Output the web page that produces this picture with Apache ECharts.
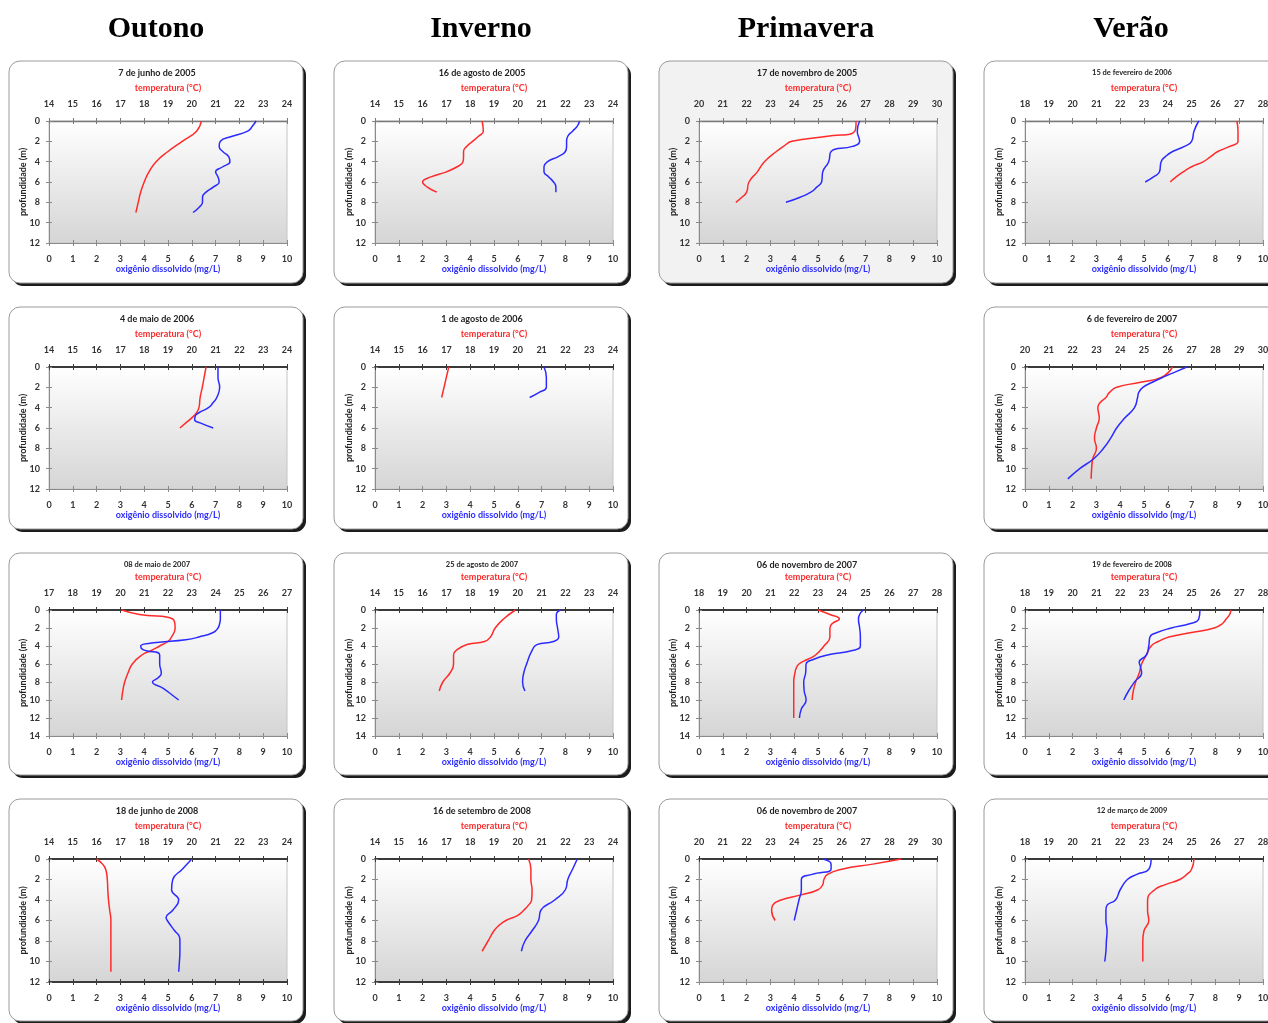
<!DOCTYPE html>
<html>
<head>
<meta charset="utf-8">
<script src="https://cdn.jsdelivr.net/npm/echarts@6/dist/echarts.min.js"></script>
<style>
html,body{margin:0;padding:0;background:#ffffff;}
#c{width:1268px;height:1023px;}
</style>
</head>
<body>
<div id="c"></div>
<script>
// ---------- text ----------
const seasons = ['Outono', 'Inverno', 'Primavera', 'Verão'];
const tempName = 'temperatura (°C)';
const o2Name = 'oxigênio dissolvido (mg/L)';
const depthName = 'profundidade (m)';

// ---------- profiles: [depth (m), value] ----------
const jun2005Temp = [[0,20.4],[1,20.2],[2,19.6],[3,19.0],[4,18.5],[5,18.2],[6,18.0],[7,17.85],[8,17.75],[9,17.65]];
const jun2005O2   = [[0,8.7],[0.5,8.55],[1,8.35],[1.5,7.7],[2,7.2],[2.5,7.15],[3,7.3],[3.5,7.55],[4,7.6],[4.5,7.3],[5,7.0],[5.5,7.1],[6,7.15],[6.5,6.9],[7,6.6],[7.5,6.45],[8,6.45],[8.5,6.3],[9,6.05]];

const ago2005Temp = [[0,18.5],[1,18.55],[1.5,18.35],[2,18.1],[2.5,17.85],[3,17.72],[3.5,17.72],[4,17.7],[4.5,17.45],[5,17.0],[5.5,16.35],[6,16.0],[6.5,16.2],[7,16.6]];
const ago2005O2   = [[0,8.6],[0.5,8.5],[1,8.3],[1.5,8.1],[2,8.05],[2.5,8.05],[3,8.0],[3.5,7.7],[4,7.25],[4.5,7.1],[5,7.1],[5.5,7.3],[6,7.5],[6.5,7.6],[7,7.6]];

const nov2005Temp = [[0,26.6],[1,26.55],[1.5,25.4],[2,23.9],[2.5,23.55],[3,23.25],[4,22.75],[5,22.45],[6,22.1],[7,22.0],[7.5,21.8],[8,21.55]];
const nov2005O2   = [[0,6.75],[1,6.65],[2,6.75],[2.5,6.45],[3,5.55],[4,5.45],[5,5.2],[6,5.15],[6.5,4.95],[7,4.7],[7.5,4.25],[8,3.65]];

const fev2006Temp = [[0,26.9],[1,26.95],[2,26.95],[2.5,26.6],[3,26.1],[3.5,25.8],[4,25.5],[4.5,25.0],[5,24.65],[5.5,24.35],[6,24.1]];
const fev2006O2   = [[0,7.3],[1,7.1],[2,7.0],[2.5,6.7],[3,6.2],[3.5,5.9],[4,5.72],[5,5.65],[5.5,5.4],[6,5.05]];

const mai2006Temp = [[0,20.6],[1,20.52],[2,20.44],[3,20.35],[4,20.3],[4.5,20.2],[5,20.0],[5.5,19.75],[6,19.5]];
const mai2006O2   = [[0,7.1],[1,7.1],[2,7.17],[3,7.05],[3.5,6.9],[4,6.7],[4.5,6.3],[4.8,6.15],[5.2,6.12],[5.5,6.35],[6,6.9]];

const ago2006Temp = [[0,17.1],[1,17.0],[2,16.9],[3,16.8]];
const ago2006O2   = [[0,7.1],[1,7.2],[2,7.2],[2.5,6.9],[3,6.5]];

const fev2007Temp = [[0,26.2],[1,25.75],[1.5,24.85],[2,23.85],[2.5,23.55],[3,23.4],[3.5,23.16],[4,23.06],[5,23.12],[6,23.0],[7,22.92],[8,23.0],[9,22.85],[10,22.8],[11,22.78]];
const fev2007O2   = [[0,6.8],[0.5,6.3],[1,5.8],[1.5,5.35],[2,4.95],[2.5,4.78],[3,4.73],[4,4.6],[5,4.2],[6,3.85],[7,3.6],[8,3.3],[9,2.9],[10,2.3],[11,1.8]];

const mai2007Temp = [[0,20.05],[0.5,20.8],[1,22.2],[2,22.3],[3,22.15],[3.5,22.0],[4,21.65],[4.5,21.3],[5,20.9],[6,20.5],[7,20.32],[8,20.18],[9,20.1],[10,20.05]];
const mai2007O2   = [[0,7.2],[1,7.2],[1.5,7.17],[2,7.1],[2.5,6.9],[3,6.3],[3.3,5.75],[3.65,4.4],[4,3.85],[4.4,3.95],[5,4.65],[6,4.65],[7,4.72],[7.5,4.6],[8,4.35],[8.7,4.8],[9.5,5.2],[10,5.45]];

const ago2007Temp = [[0,19.9],[1,19.4],[2,19.05],[3,18.85],[3.5,18.6],[3.8,17.9],[4.4,17.45],[5,17.3],[6,17.3],[7,17.15],[8,16.85],[9,16.7]];
const ago2007O2   = [[0,7.8],[0.5,7.62],[1,7.62],[2,7.67],[3,7.72],[3.5,7.5],[3.85,6.8],[4.6,6.58],[6,6.37],[7,6.25],[8,6.2],[9,6.3]];

const nov2007Temp = [[0,23.0],[0.5,23.5],[1,23.9],[1.5,23.6],[2,23.5],[3,23.5],[4,23.25],[5,22.9],[5.5,22.55],[6,22.2],[6.5,22.08],[7,22.03],[8,21.98],[9,21.98],[10,21.98],[11,21.98],[12,21.98]];
const nov2007O2   = [[0,6.9],[0.5,6.75],[1,6.7],[2,6.75],[3,6.78],[4,6.78],[4.5,6.45],[5,5.4],[5.5,4.8],[6,4.5],[7,4.48],[8,4.4],[9,4.42],[10,4.5],[11,4.3],[12,4.22]];

const fev2008Temp = [[0,26.65],[0.5,26.6],[1,26.45],[1.5,26.3],[2,25.95],[2.5,25.0],[3,24.05],[3.5,23.6],[4,23.3],[5,23.1],[6,22.9],[7,22.8],[8,22.65],[9,22.55],[10,22.5]];
const fev2008O2   = [[0,7.35],[1,7.3],[1.5,6.95],[2,6.15],[2.5,5.55],[3,5.25],[4,5.2],[5,5.1],[5.8,4.8],[6.3,4.85],[7,4.9],[8,4.6],[9,4.35],[10,4.15]];

const jun2008Temp = [[0,16.0],[0.5,16.25],[1,16.38],[2,16.45],[3,16.47],[4,16.5],[5,16.55],[6,16.6],[7,16.6],[8,16.6],[9,16.6],[10,16.6],[11,16.6]];
const jun2008O2   = [[0,6.0],[1,5.6],[2,5.2],[3,5.15],[4,5.45],[5,5.2],[5.7,4.92],[6,4.97],[7,5.28],[7.6,5.48],[8,5.5],[9,5.5],[10,5.48],[11,5.45]];

const set2008Temp = [[0,20.45],[1,20.55],[2,20.55],[3,20.6],[4,20.58],[4.5,20.45],[5,20.25],[5.5,20.0],[6,19.5],[6.5,19.2],[7,19.0],[8,18.75],[9,18.5]];
const set2008O2   = [[0,8.5],[1,8.3],[2,8.1],[3,8.0],[4,7.55],[5,6.97],[6,6.87],[7,6.6],[8,6.3],[9,6.15]];

const nov2007bTemp = [[0,28.5],[0.5,27.3],[1,26.0],[1.5,25.4],[2,25.25],[2.5,25.2],[3,25.0],[3.5,24.3],[4,23.45],[4.5,23.1],[5,23.05],[6,23.2]];
const nov2007bO2   = [[0,5.2],[0.5,5.55],[1,5.55],[1.5,4.75],[2,4.3],[3,4.3],[4,4.2],[5,4.1],[6,4.0]];

const mar2009Temp = [[0,25.1],[1,25.0],[1.5,24.8],[2,24.5],[2.5,23.9],[3,23.45],[4,23.15],[5,23.15],[6,23.2],[7,23.0],[8,22.95],[9,22.95],[10,22.95]];
const mar2009O2   = [[0,5.3],[1,5.2],[1.5,4.7],[2,4.3],[3,4.0],[4,3.8],[4.5,3.45],[5,3.4],[6,3.4],[7,3.45],[8,3.42],[9,3.4],[10,3.35]];

// ---------- axis ranges ----------
const o2Range = [0, 10];

// ---------- panels ----------
const panels = [
  {date:'7 de junho de 2005',      row:0, col:0, tRange:[14,24], dMax:12, temp:jun2005Temp,  o2:jun2005O2},
  {date:'16 de agosto de 2005',    row:0, col:1, tRange:[14,24], dMax:12, temp:ago2005Temp,  o2:ago2005O2},
  {date:'17 de novembro de 2005',  row:0, col:2, tRange:[20,30], dMax:12, temp:nov2005Temp,  o2:nov2005O2},
  {date:'15 de fevereiro de 2006', row:0, col:3, tRange:[18,28], dMax:12, temp:fev2006Temp,  o2:fev2006O2},
  {date:'4 de maio de 2006',       row:1, col:0, tRange:[14,24], dMax:12, temp:mai2006Temp,  o2:mai2006O2},
  {date:'1 de agosto de 2006',     row:1, col:1, tRange:[14,24], dMax:12, temp:ago2006Temp,  o2:ago2006O2},
  {date:'6 de fevereiro de 2007',  row:1, col:3, tRange:[20,30], dMax:12, temp:fev2007Temp,  o2:fev2007O2},
  {date:'08 de maio de 2007',      row:2, col:0, tRange:[17,27], dMax:14, temp:mai2007Temp,  o2:mai2007O2},
  {date:'25 de agosto de 2007',    row:2, col:1, tRange:[14,24], dMax:14, temp:ago2007Temp,  o2:ago2007O2},
  {date:'06 de novembro de 2007',  row:2, col:2, tRange:[18,28], dMax:14, temp:nov2007Temp,  o2:nov2007O2},
  {date:'19 de fevereiro de 2008', row:2, col:3, tRange:[18,28], dMax:14, temp:fev2008Temp,  o2:fev2008O2},
  {date:'18 de junho de 2008',     row:3, col:0, tRange:[14,24], dMax:12, temp:jun2008Temp,  o2:jun2008O2},
  {date:'16 de setembro de 2008',  row:3, col:1, tRange:[14,24], dMax:12, temp:set2008Temp,  o2:set2008O2},
  {date:'06 de novembro de 2007',  row:3, col:2, tRange:[20,30], dMax:12, temp:nov2007bTemp, o2:nov2007bO2},
  {date:'12 de março de 2009',     row:3, col:3, tRange:[18,28], dMax:12, temp:mar2009Temp,  o2:mar2009O2}
];

// ---------- layout / style ----------
const boxX = [9, 334, 659, 984];
const boxY = [61, 307, 553, 799];
const BOX_W = 294, BOX_H = 222;
const plotLeft = [49, 375, 699, 1025];
const plotTop = [121, 367, 610, 859];
const plotH = [122, 122, 126, 123];
const PLOT_W = 238;
const smallTitle = {'15 de fevereiro de 2006':7.5, '08 de maio de 2007':7.5, '25 de agosto de 2007':7.5,
                    '19 de fevereiro de 2008':7.5, '12 de março de 2009':7.5};
const FONT = 'Lato, "Open Sans", "Liberation Sans", sans-serif';
const RED = '#ff2a2a', BLUE = '#2b2bff';

const grids = [], xAxes = [], yAxes = [], series = [], graphics = [];

seasons.forEach((s, c) => {
  graphics.push({type:'text', z:50, silent:true,
    style:{text:s, x:boxX[c] + BOX_W/2, y:29, align:'center', verticalAlign:'middle',
      font:'bold 30px "Liberation Serif", "Times New Roman", serif', fill:'#000'}});
});

const plotBg = {type:'linear', x:0, y:0, x2:0, y2:1,
  colorStops:[{offset:0, color:'#ffffff'}, {offset:1, color:'#d5d5d5'}]};

panels.forEach((p, i) => {
  const bx = boxX[p.col], by = boxY[p.row];
  graphics.push({type:'rect', z:-20, silent:true,
    shape:{x:bx + 3, y:by + 3, width:BOX_W, height:BOX_H, r:11},
    style:{fill:'#1c1c1c'}});
  graphics.push({type:'rect', z:-19, silent:true,
    shape:{x:bx, y:by, width:BOX_W, height:BOX_H, r:11},
    style:{fill:(p.row === 0 && p.col === 2) ? '#f2f2f2' : '#ffffff', stroke:'#9a9a9a', lineWidth:1}});
  graphics.push({type:'text', z:50, silent:true,
    style:{text:p.date, x:bx + BOX_W/2 + 1, y:by + 12, align:'center', verticalAlign:'middle',
      font:'bold ' + (smallTitle[p.date] || 9) + 'px ' + FONT, fill:'#222'}});

  grids.push({left:plotLeft[p.col], top:plotTop[p.row], width:PLOT_W, height:plotH[p.row],
    show:true, backgroundColor:plotBg, borderColor:'#c4c4c4', borderWidth:1, z:1,
    containLabel:false, outerBoundsMode:'none'});

  const topLine = p.row === 0 ? {color:'#7a7a7a', width:1.3} : {color:'#3a3a3a', width:1.8};
  const sideLine = {color:'#8a8a8a', width:1};
  const bottomLine = (p.row === 3 && p.col < 2) ? {color:'#3a3a3a', width:1.8} : sideLine;
  const lbl = {show:true, color:'#333', fontWeight:'bold', fontSize:9, fontFamily:FONT};
  const xi = xAxes.length, yi = yAxes.length;

  xAxes.push({gridIndex:i, type:'value', position:'top', min:p.tRange[0], max:p.tRange[1], interval:1,
    name:tempName, nameLocation:'middle', nameGap:28, nameMoveOverlap:false,
    nameTextStyle:{color:RED, fontWeight:'bold', fontSize:9, fontFamily:FONT},
    axisLine:{show:true, onZero:false, lineStyle:topLine},
    axisTick:{show:true, inside:false, length:3, lineStyle:{color:topLine.color, width:1}},
    axisLabel:Object.assign({margin:12}, lbl), splitLine:{show:false}, z:5});
  xAxes.push({gridIndex:i, type:'value', position:'bottom', min:o2Range[0], max:o2Range[1], interval:1,
    name:o2Name, nameLocation:'middle', nameGap:22, nameMoveOverlap:false,
    nameTextStyle:{color:BLUE, fontWeight:'bold', fontSize:9, fontFamily:FONT},
    axisLine:{show:true, onZero:false, lineStyle:bottomLine},
    axisTick:{show:true, inside:false, length:3, lineStyle:{color:bottomLine.color, width:1}},
    axisLabel:Object.assign({margin:12}, lbl), splitLine:{show:false}, z:5});
  xAxes.push({gridIndex:i, type:'value', position:'top', min:p.tRange[0], max:p.tRange[1], interval:1,
    axisLine:{show:false, onZero:false}, axisTick:{show:true, inside:true, length:3, lineStyle:{color:topLine.color, width:1}},
    axisLabel:{show:false}, splitLine:{show:false}, z:5});
  xAxes.push({gridIndex:i, type:'value', position:'bottom', min:o2Range[0], max:o2Range[1], interval:1,
    axisLine:{show:false, onZero:false}, axisTick:{show:true, inside:true, length:3, lineStyle:{color:bottomLine.color, width:1}},
    axisLabel:{show:false}, splitLine:{show:false}, z:5});

  yAxes.push({gridIndex:i, type:'value', position:'left', inverse:true, min:0, max:p.dMax, interval:2,
    name:depthName, nameLocation:'middle', nameGap:21, nameMoveOverlap:false,
    nameTextStyle:{color:'#222', fontWeight:'bold', fontSize:9, fontFamily:FONT},
    axisLine:{show:true, onZero:false, lineStyle:sideLine},
    axisTick:{show:true, inside:false, length:3, lineStyle:{color:sideLine.color, width:1}},
    axisLabel:Object.assign({margin:9}, lbl), splitLine:{show:false}, z:5});
  yAxes.push({gridIndex:i, type:'value', position:'left', inverse:true, min:0, max:p.dMax, interval:2,
    axisLine:{show:false, onZero:false}, axisTick:{show:true, inside:true, length:3, lineStyle:{color:sideLine.color, width:1}},
    axisLabel:{show:false}, splitLine:{show:false}, z:5});

  series.push({type:'line', xAxisIndex:xi, yAxisIndex:yi, data:p.temp.map(d => [d[1], d[0]]),
    smooth:0.5, showSymbol:false, symbol:'none', lineStyle:{color:RED, width:1.5}, itemStyle:{color:RED},
    silent:true, z:6, clip:false});
  series.push({type:'line', xAxisIndex:xi + 1, yAxisIndex:yi, data:p.o2.map(d => [d[1], d[0]]),
    smooth:0.5, showSymbol:false, symbol:'none', lineStyle:{color:BLUE, width:1.5}, itemStyle:{color:BLUE},
    silent:true, z:6, clip:false});
});

const chart = echarts.init(document.getElementById('c'), null, {renderer:'canvas', width:1268, height:1023});
chart.setOption({
  animation:false,
  backgroundColor:'#ffffff',
  graphic:{elements:graphics},
  grid:grids,
  xAxis:xAxes,
  yAxis:yAxes,
  series:series
});
</script>
</body>
</html>
